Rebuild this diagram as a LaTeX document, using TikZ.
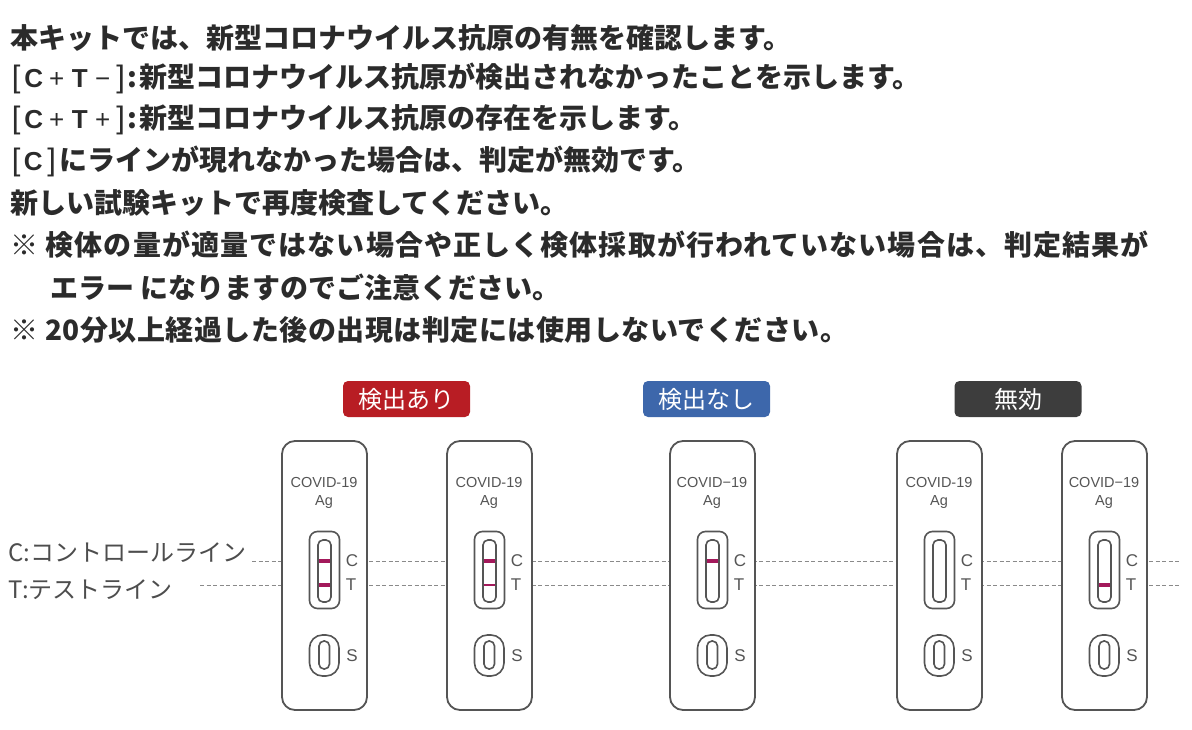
\documentclass[tikz,border=0pt]{standalone}
\usepackage{fontspec}
\setmainfont{Noto Sans CJK JP}
\newfontfamily\arialf{Liberation Sans}
\definecolor{txtc}{HTML}{2B2B2B}
\definecolor{lblc}{HTML}{4D4D4D}
\definecolor{cas}{HTML}{555555}
\definecolor{badred}{HTML}{B81D24}
\definecolor{badblue}{HTML}{3D67AB}
\definecolor{badgrey}{HTML}{3D3D3D}
\definecolor{band}{HTML}{A3195B}
\definecolor{dashc}{HTML}{8A8A8A}
\newcommand\lb[3]{\makebox[#1pt]{\arialf\mdseries\fontsize{#2}{#2}\selectfont #3}}
\newcommand\lbb[3]{\makebox[#1pt]{\arialf\bfseries\fontsize{#2}{#2}\selectfont #3}}
\newcommand\bro{\lb{12}{31}{[}}
\newcommand\brc{\lb{13}{31}{]}}
\newcommand\lc[1]{\lb{23}{26}{#1}}
\newcommand\lcb[1]{\lbb{23}{26}{#1}}
\tikzset{
  txt/.style={anchor=west, inner sep=0pt, text=txtc, font=\fontsize{28}{28}\selectfont\bfseries},
  lbl/.style={anchor=west, inner sep=0pt, text=lblc, font=\fontsize{24}{24}\selectfont},
  badge/.style={fill=#1, rounded corners=5pt, minimum width=127pt, minimum height=36pt, inner sep=0pt, text=white, font=\fontsize{24}{24}\selectfont},
  guide/.style={draw=dashc, line width=0.8pt, dash pattern=on 4pt off 2.5pt},
  casbody/.style={draw=cas, line width=1.8pt, fill=white, rounded corners=13pt},
  caswin/.style={draw=cas, line width=1.6pt, rounded corners=#1},
  castxt/.style={inner sep=0pt, text=cas, font=\arialf\fontsize{14.5}{14.5}\selectfont},
  casletter/.style={inner sep=0pt, text=cas, font=\arialf\fontsize{17}{17}\selectfont},
  bandline/.style={draw=band, line width=#1},
}
% #1 name, #2 left x, #3 label text, #4 C band width (0 = none), #5 T band width
\newcommand\mycassette[5]{%
  \draw[casbody] (#2,441) rectangle (#2+85,710);
  \coordinate (#1-o) at (#2,441);
  \node[castxt] (#1-cv) at (#2+42,483) {#3};
  \node[castxt] (#1-ag) at (#2+42,502) {Ag};
  \draw[caswin=8pt] (#2+27.5,531.5) rectangle (#2+57.5,608.5);
  \draw[caswin=5pt] (#2+36,540) rectangle (#2+49,602);
  \ifdim#4pt>0pt \draw[bandline=#4pt] (#2+36.8,561) -- (#2+48.2,561);\fi
  \ifdim#5pt>0pt \draw[bandline=#5pt] (#2+36.8,585) -- (#2+48.2,585);\fi
  \node[casletter] (#1-c) at (#2+70,561) {C};
  \node[casletter] (#1-t) at (#2+69,585) {T};
  \draw[caswin=13pt] (#2+27.5,635) rectangle (#2+57,676);
  \draw[caswin=5pt] (#2+37,641) rectangle (#2+47.5,669);
  \node[casletter] (#1-s) at (#2+70,656) {S};
}
\begin{document}
\begin{tikzpicture}[x=1pt,y=-1pt]
\useasboundingbox (0,0) rectangle (1192,730);
\node[txt] (l1) at (10,38) {本キットでは、新型コロナウイルス抗原の有無を確認します。};
\node[txt] (l2) at (10,78) {\bro\lcb{C}\lc{+}\lcb{T}\lc{−}\brc:\hspace{2pt}新型コロナウイルス抗原が検出されなかったことを示します。};
\node[txt] (l3) at (10,120) {\bro\lcb{C}\lc{+}\lcb{T}\lc{+}\brc:\hspace{2pt}新型コロナウイルス抗原の存在を示します。};
\node[txt] (l4) at (10,161) {\bro\lbb{22}{26}{C}\lb{15}{31}{]}にラインが現れなかった場合は、判定が無効です。};
\node[txt] (l5) at (10,203) {新しい試験キットで再度検査してください。};
\node[txt] (l6) at (10,245) {\addfontfeature{LetterSpace=4}※ 検体の量が適量ではない場合や正しく検体採取が行われていない場合は、判定結果が};
\node[txt] (l7) at (50,287) {エラー になりますのでご注意ください。};
\node[txt] (l8) at (10,330) {\addfontfeature{LetterSpace=1.8}※ 20分以上経過した後の出現は判定には使用しないでください。};

\node[badge=badred] (b1) at (406.5,399) {検出あり};
\node[badge=badblue] (b2) at (706.5,399) {検出なし};
\node[badge=badgrey] (b3) at (1018,399) {無効};

\node[lbl] (cl) at (8,553) {C:コントロールライン};
\node[lbl] (tl) at (8,590) {T:テストライン};
\coordinate (cs) at (252,561);
\coordinate (ts) at (200,585);
\coordinate (ce) at (1180,561);
\coordinate (te) at (1180,585);
\draw[guide] (cs) -- (ce);
\draw[guide] (ts) -- (te);

\mycassette{k1}{282}{COVID-19}{4}{4}
\mycassette{k2}{447}{COVID-19}{4}{1.3}
\mycassette{k3}{670}{COVID−19}{4}{0}
\mycassette{k4}{897}{COVID-19}{0}{0}
\mycassette{k5}{1062}{COVID−19}{0}{4}
\end{tikzpicture}
\end{document}
